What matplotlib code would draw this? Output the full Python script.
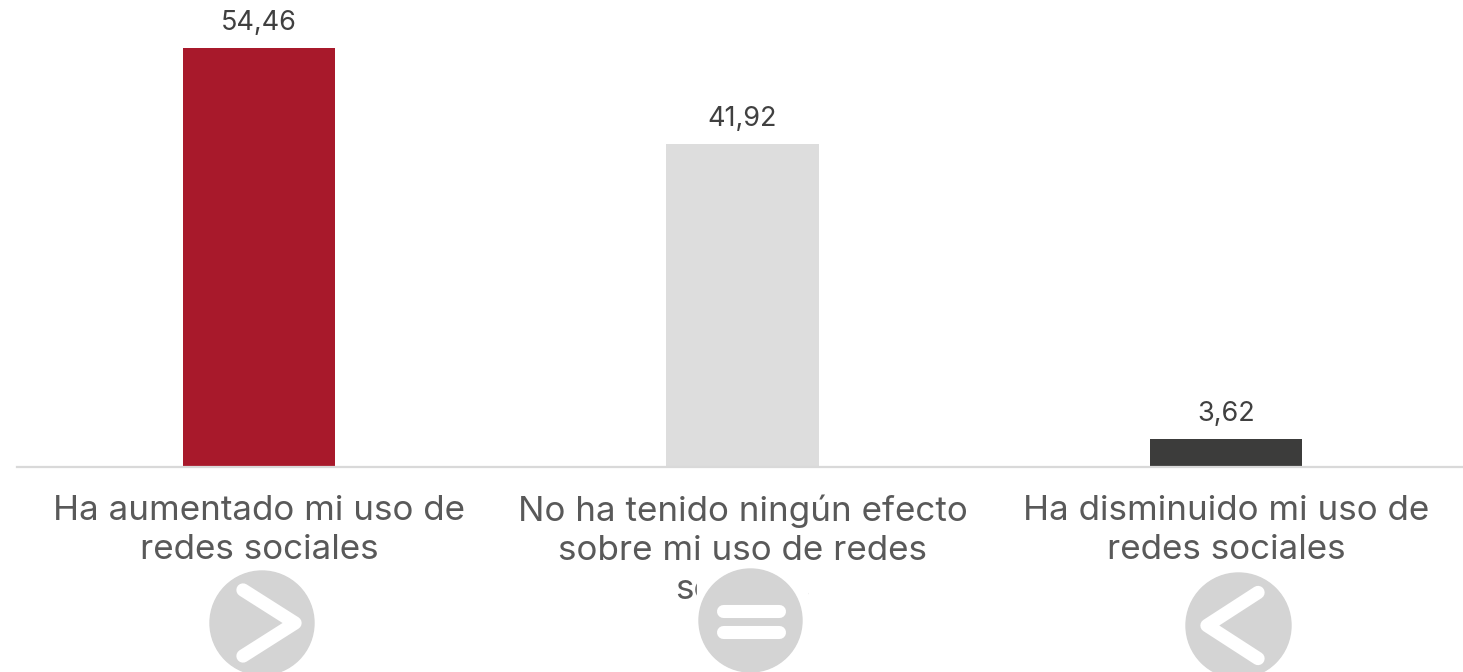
"""Bar chart: effect on social media use, with icon badges under the labels."""
import matplotlib
matplotlib.use("Agg")
import matplotlib.pyplot as plt
from matplotlib.patches import Circle, Rectangle

W, H = 1463, 672

CATEGORIES = ["Ha aumentado mi uso de\nredes sociales",
              "No ha tenido ningún efecto\nsobre mi uso de redes\nsociales",
              "Ha disminuido mi uso de\nredes sociales"]
VALUES = [54.46, 41.92, 3.62]
VALUE_LABELS = ["54,46", "41,92", "3,62"]
COLORS = ["#A8192B", "#DDDDDD", "#3C3C3B"]

TEXT = "#404040"
LABEL = "#595959"
BADGE = "#D4D4D4"
plt.rcParams["font.family"] = ["Inter", "DejaVu Sans"]

fig = plt.figure(figsize=(W / 100, H / 100), dpi=100, facecolor="white")

# main axes, baseline at y=467px, 54.46 tops out at y=48px
# bar centres sit at 259, 742.5, 1226px
left, right = 17, 1463
step = 483.5
ax = fig.add_axes([left / W, 1 - 467 / H, (right - left) / W, 467 / H])
ax.set_xlim((left - 259) / step, (right - 259) / step)
ax.set_ylim(0, 54.46 * 467 / 419)
ax.bar(range(3), VALUES, width=0.3144, color=COLORS)
for i, (v, s) in enumerate(zip(VALUES, VALUE_LABELS)):
    ax.annotate(s, (i, v), xytext=(0, 12), textcoords="offset pixels",
                ha="center", va="bottom", fontsize=19.5, color=TEXT)
for name in ["top", "left", "right"]:
    ax.spines[name].set_visible(False)
ax.spines["bottom"].set_color("#D9D9D9")
ax.spines["bottom"].set_linewidth(1.6)
ax.set_yticks([])
ax.set_xticks(range(3))
ax.set_xticklabels(CATEGORIES, fontsize=25.2, color=LABEL, linespacing=1.27)
ax.tick_params(axis="x", length=0, pad=20)

# overlay in pixel coordinates for the icons
ov = fig.add_axes([0, 0, 1, 1])
ov.set_xlim(0, W)
ov.set_ylim(H, 0)
ov.axis("off")
ov.patch.set_alpha(0)


def badge(cx, cy, r):
    ov.add_patch(Circle((cx, cy), r, color=BADGE, zorder=3))


def chevron(cx, cy, tip_x, end_x):
    ov.plot([end_x, tip_x, end_x], [cy - 33, cy, cy + 33], color="white", lw=9.6,
            solid_capstyle="round", solid_joinstyle="round", zorder=4)


badge(262, 623, 52)
chevron(262, 623, 295, 243)

# the icon's white square hides most of the third label line
ov.add_patch(Rectangle((697, 568), 110, 56, color="white", zorder=2.5))
badge(750.5, 620.5, 51.5)
for y in (610.5, 631.5):
    ov.plot([722.5, 778.5], [y, y], color="white", lw=9.4, solid_capstyle="round", zorder=4)

badge(1238.5, 625.5, 52.5)
chevron(1238.5, 625.5, 1207, 1258)

fig.savefig("out.png", dpi=100, facecolor="white")
